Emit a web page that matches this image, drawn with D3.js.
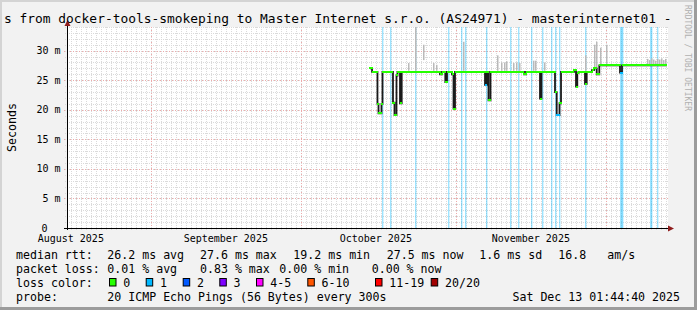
<!DOCTYPE html>
<html><head><meta charset="utf-8">
<script src="https://cdn.jsdelivr.net/npm/d3@7"></script>
<style>
body{margin:0;background:#f2f2f2;overflow:hidden}
text{font-family:"DejaVu Sans Mono",monospace}
</style>
</head><body><svg id="c" width="697" height="310"></svg>
<script>
// ---------------- data ----------------
const timeDomain = ["2025-08-15T05:45:00Z", "2025-12-13T10:33:00Z"];
const yDomain = [0, 34];
const yTickValues = [0, 5, 10, 15, 20, 25, 30];
const yTickLabels = ["0", "5 m", "10 m", "15 m", "20 m", "25 m", "30 m"];
const monthStarts = ["2025-09-01T00:00:00Z", "2025-10-01T00:00:00Z", "2025-11-01T00:00:00Z", "2025-12-01T00:00:00Z"];
const monthLabelDates = ["2025-08-16T00:00:00Z", "2025-09-16T00:00:00Z", "2025-10-16T00:00:00Z", "2025-11-16T00:00:00Z"];
const monthLabels = ["August 2025", "September 2025", "October 2025", "November 2025"];

// median rtt (ms), step series: each value holds until the next date
const medianDates = [
 "2025-10-14T20:00Z","2025-10-15T06:00Z","2025-10-16T08:00Z","2025-10-16T13:00Z","2025-10-17T03:20Z","2025-10-17T08:10Z",
 "2025-10-19T10:30Z","2025-10-19T17:45Z","2025-10-20T03:20Z","2025-10-20T08:10Z","2025-10-20T20:10Z","2025-10-21T04:20Z",
 "2025-10-28T20:10Z","2025-10-29T05:45Z","2025-10-29T21:36Z","2025-10-30T05:45Z","2025-10-31T05:45Z","2025-10-31T13:00Z",
 "2025-10-31T20:10Z","2025-11-06T20:10Z","2025-11-07T04:20Z","2025-11-07T13:00Z","2025-11-07T22:30Z","2025-11-14T15:20Z",
 "2025-11-15T01:00Z","2025-11-17T20:10Z","2025-11-18T03:20Z","2025-11-20T20:10Z","2025-11-21T04:20Z","2025-11-21T17:45Z",
 "2025-11-22T01:00Z","2025-11-24T15:20Z","2025-11-25T01:00Z","2025-11-25T07:10Z","2025-11-25T13:00Z","2025-11-26T20:10Z",
 "2025-11-27T04:20Z","2025-11-28T05:45Z","2025-11-28T15:20Z","2025-11-29T04:20Z","2025-11-29T16:50Z","2025-12-03T20:10Z",
 "2025-12-04T05:45Z","2025-12-13T01:00Z"];
const medianValues = [
 27.0,26.4,21.0,19.4,21.0,26.4,
 21.2,19.1,25.8,26.4,21.1,26.4,
 26.0,26.4,24.7,26.4,26.0,20.2,
 26.4,24.2,26.4,21.6,26.4,26.0,
 26.4,21.9,26.4,23.0,19.1,21.1,
 26.4,26.7,23.9,26.2,26.4,24.4,
 26.4,26.7,27.0,26.0,27.5,26.3,
 27.5,27.6];
const medianLoss = [
 0,0,0,0,0,0,
 0,0,0,0,0,0,
 0,0,0,0,0,0,
 0,1,0,0,0,0,
 0,0,0,0,1,0,
 0,0,0,0,0,0,
 0,0,0,0,0,1,
 0,0];

// moments with 1 lost ping (shown as full-height bars)
const lossDates = [
 "2025-10-17T07:10Z","2025-10-18T21:40Z","2025-10-23T21:40Z","2025-10-30T12:00Z","2025-11-01T23:30Z","2025-11-02T18:40Z",
 "2025-11-06T23:30Z","2025-11-11T20:10Z","2025-11-13T12:00Z","2025-11-15T23:30Z","2025-11-18T07:10Z","2025-11-19T23:30Z",
 "2025-11-20T20:10Z","2025-11-21T15:20Z","2025-11-26T20:10Z","2025-12-03T20:10Z","2025-12-04T01:00Z","2025-12-04T06:00Z",
 "2025-12-09T17:45Z","2025-12-10T01:00Z","2025-12-11T04:20Z"];

// smoke (ping spread) ranges in ms
const smokeDates = [
 "2025-10-22T12:00Z","2025-10-23T20:10Z","2025-10-25T12:00Z","2025-10-27T10:30Z","2025-10-28T01:00Z",
 "2025-11-02T08:10Z","2025-11-09T05:45Z","2025-11-10T01:00Z","2025-11-10T15:20Z","2025-11-11T01:00Z",
 "2025-11-12T10:30Z","2025-11-13T01:00Z","2025-11-13T15:20Z","2025-11-16T10:30Z","2025-11-16T20:10Z",
 "2025-11-18T15:20Z","2025-11-26T20:10Z","2025-11-28T13:00Z","2025-11-29T01:00Z","2025-11-29T20:10Z",
 "2025-12-01T01:00Z","2025-12-09T05:45Z","2025-12-09T15:20Z","2025-12-10T01:00Z","2025-12-10T10:30Z",
 "2025-12-10T20:10Z","2025-12-11T05:45Z","2025-12-11T15:20Z","2025-12-12T01:00Z","2025-12-12T10:30Z","2025-12-12T20:10Z"];
const smokeLow = [
 26.6,26.6,28.4,26.6,26.6,
 26.6,26.6,26.6,26.6,26.6,
 26.6,26.6,26.6,26.6,26.6,
 26.6,26.6,27.2,27.2,27.7,
 27.7,27.7,27.7,27.7,27.7,
 27.7,27.7,27.7,27.7,27.7,27.7];
const smokeHigh = [
 27.9,34.0,31.0,27.9,27.6,
 31.5,29.2,28.0,28.0,28.2,
 27.9,28.0,27.9,28.3,28.3,
 28.0,29.2,31.0,31.5,30.5,
 31.0,28.6,28.4,28.7,28.5,
 28.3,28.6,28.5,28.7,28.4,28.6];

const lossColors = ["#26ff00","#00b8ff","#0059ff","#7e00ff","#ff00ff","#ff5500","#ff0000","#a10000"];
const lossLabels = ["0","1","2","3","4-5","6-10","11-19","20/20"];

// ---------------- chart ----------------
const W = 697, H = 310;
const L = 67, R = 668, T = 27, B = 228;
const svg = d3.select("#c");

svg.append("rect").attr("width", W).attr("height", H).attr("fill", "#f2f2f2");
svg.append("rect").attr("x", 0).attr("y", 0).attr("width", W).attr("height", 2).attr("fill", "#d4d4d4");
svg.append("rect").attr("x", 0).attr("y", 0).attr("width", 2).attr("height", H).attr("fill", "#d4d4d4");
svg.append("rect").attr("x", W - 3).attr("y", 0).attr("width", 3).attr("height", H).attr("fill", "#9c9c9c");
svg.append("rect").attr("x", 0).attr("y", H - 3).attr("width", W).attr("height", 3).attr("fill", "#9c9c9c");

const x = d3.scaleUtc().domain(timeDomain.map(d => new Date(d))).range([L, R]);
const y = d3.scaleLinear().domain(yDomain).range([B, T]);
const px = v => Math.round(v) + 0.5;

svg.append("rect").attr("x", L).attr("y", T).attr("width", R - L).attr("height", B - T).attr("fill", "#ffffff");

const g = svg.append("g");

// minor grid
const days = d3.utcDay.range(x.domain()[0], x.domain()[1]);
g.selectAll("line.vmin").data(days).join("line")
  .attr("x1", d => px(x(d))).attr("x2", d => px(x(d)))
  .attr("y1", T).attr("y2", B + 2)
  .attr("stroke", "#dadada").attr("stroke-width", 1).attr("stroke-dasharray", "1,1")
  .attr("shape-rendering", "crispEdges");
const hMinor = y.ticks(34).filter(v => v > 0);
g.selectAll("line.hmin").data(hMinor).join("line")
  .attr("x1", L - 2).attr("x2", R)
  .attr("y1", d => px(y(d))).attr("y2", d => px(y(d)))
  .attr("stroke", "#dadada").attr("stroke-width", 1).attr("stroke-dasharray", "1,1")
  .attr("shape-rendering", "crispEdges");

// major grid
g.selectAll("line.vmaj").data(monthStarts).join("line")
  .attr("x1", d => px(x(new Date(d)))).attr("x2", d => px(x(new Date(d))))
  .attr("y1", T).attr("y2", B + 3)
  .attr("stroke", "#eeaaaa").attr("stroke-width", 1).attr("stroke-dasharray", "1,2")
  .attr("shape-rendering", "crispEdges");
g.selectAll("line.hmaj").data(yTickValues.filter(v => v > 0)).join("line")
  .attr("x1", L - 3).attr("x2", R)
  .attr("y1", d => px(y(d))).attr("y2", d => px(y(d)))
  .attr("stroke", "#eeaaaa").attr("stroke-width", 1).attr("stroke-dasharray", "1,2")
  .attr("shape-rendering", "crispEdges");

// loss bars
g.selectAll("rect.loss").data(lossDates).join("rect")
  .attr("x", d => Math.round(x(new Date(d)))).attr("width", 1.4)
  .attr("y", T).attr("height", B - T)
  .attr("fill", lossColors[1]).attr("opacity", 0.38);

// smoke
g.selectAll("rect.smoke").data(smokeDates).join("rect")
  .attr("x", d => Math.round(x(new Date(d)))).attr("width", 1.5)
  .attr("y", (d, i) => y(smokeHigh[i]))
  .attr("height", (d, i) => y(smokeLow[i]) - y(smokeHigh[i]))
  .attr("fill", "#b9b9b9");

// median (dark steps underneath, loss-coloured horizontals on top)
const med = medianDates.map((d, i) => ({ t: new Date(d), v: medianValues[i], l: medianLoss[i] }));
g.append("path").datum(med)
  .attr("d", d3.line().x(d => x(d.t)).y(d => y(d.v)).curve(d3.curveStepAfter))
  .attr("fill", "none").attr("stroke", "#1a1a1a").attr("stroke-width", 1.8);
g.selectAll("line.med").data(med.slice(0, -1)).join("line")
  .attr("x1", d => x(d.t) - 0.5).attr("x2", (d, i) => x(med[i + 1].t) + 0.5)
  .attr("y1", d => Math.round(y(d.v))).attr("y2", d => Math.round(y(d.v)))
  .attr("stroke", d => lossColors[d.l]).attr("stroke-width", 2.4)
  .attr("shape-rendering", "crispEdges");

// axes
svg.append("line").attr("x1", L - 3).attr("x2", R + 3).attr("y1", B + 0.5).attr("y2", B + 0.5)
  .attr("stroke", "#000").attr("stroke-width", 1).attr("shape-rendering", "crispEdges");
svg.append("line").attr("x1", L + 0.5).attr("x2", L + 0.5).attr("y1", B + 2).attr("y2", T - 4)
  .attr("stroke", "#000").attr("stroke-width", 1).attr("shape-rendering", "crispEdges");
svg.append("path").attr("d", `M${R},${B - 2.5}L${R + 6},${B + 0.5}L${R},${B + 3.5}Z`).attr("fill", "#8f1d1d");
svg.append("path").attr("d", `M${L - 2.5},${T - 1}L${L + 0.5},${T - 7}L${L + 3.5},${T - 1}Z`).attr("fill", "#8f1d1d");

// y tick labels
svg.selectAll("text.yt").data(yTickValues).join("text")
  .attr("x", (d, i) => yTickLabels[i].includes("m") ? 60.5 : 47.5)
  .attr("y", d => y(d) + 3.6)
  .attr("text-anchor", "end").attr("font-size", "10px").attr("fill", "#000")
  .text((d, i) => yTickLabels[i]);

// x labels
svg.selectAll("text.xt").data(monthLabelDates).join("text")
  .attr("x", d => x(new Date(d)))
  .attr("y", 241.5)
  .attr("text-anchor", "middle").attr("font-size", "10px").attr("fill", "#000")
  .text((d, i) => monthLabels[i]);

// title
svg.append("text").attr("x", 4).attr("y", 23).attr("font-size", "12.9px").attr("fill", "#000")
  .text("s from docker-tools-smokeping to Master Internet s.r.o. (AS24971) - masterinternet01 -");

// y axis title
svg.append("text").attr("transform", "translate(15.5,127.5) rotate(-90)")
  .attr("text-anchor", "middle").attr("font-size", "11.6px").attr("fill", "#000").text("Seconds");

// watermark
svg.append("text").attr("transform", "translate(685,5) rotate(90)")
  .attr("font-size", "8px").attr("fill", "#b0b0b0").text("RRDTOOL / TOBI OETIKER");

// legend
const fs = "11.6px";
const row = (items, yy) => items.forEach(([xx, s]) =>
  svg.append("text").attr("x", xx).attr("y", yy).attr("font-size", fs).attr("fill", "#000").text(s));
row([[16, "median rtt:"], [107.3, "26.2 ms avg"], [200, "27.6 ms max"], [293.3, "19.2 ms min"],
     [386.7, "27.5 ms now"], [479.3, "1.6 ms sd"], [558.3, "16.8"], [607.3, "am/s"]], 258.5);
row([[16, "packet loss:"], [107.3, "0.01 % avg"], [200, "0.83 % max"], [279.3, "0.00 % min"], [371.7, "0.00 % now"]], 272.5);
row([[16, "loss color:"]], 286.5);
const boxX = [109, 145.7, 182.7, 219.3, 256, 307.3, 375, 430.7];
lossLabels.forEach((lab, i) => {
  svg.append("rect").attr("x", boxX[i] + 0.5).attr("y", 278.5).attr("width", 6.5).attr("height", 7.5)
    .attr("fill", lossColors[i]).attr("stroke", "#000").attr("stroke-width", 1);
  svg.append("text").attr("x", boxX[i] + 14.3).attr("y", 286.5).attr("font-size", fs).attr("fill", "#000").text(lab);
});
row([[16, "probe:"], [107.3, "20 ICMP Echo Pings (56 Bytes) every 300s"]], 300.5);
svg.append("text").attr("x", 680).attr("y", 300.5).attr("text-anchor", "end").attr("font-size", fs)
  .attr("fill", "#000").text("Sat Dec 13 01:44:40 2025");
</script></body></html>
